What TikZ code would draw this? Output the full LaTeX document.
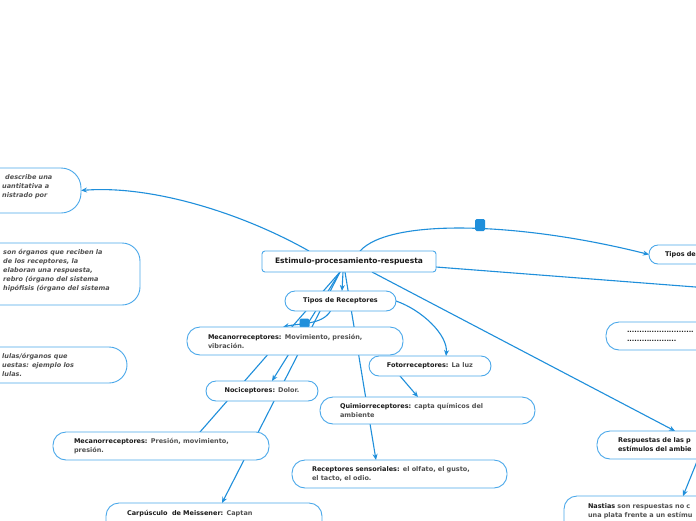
\documentclass[tikz,border=0pt]{standalone}
\usepackage{fontspec}
\setmainfont{DejaVu Sans}
\usetikzlibrary{arrows.meta,backgrounds}
\definecolor{lnblue}{HTML}{1F8FDB}
\definecolor{bxblue}{HTML}{4AA8EA}
\definecolor{txtdark}{HTML}{1A1A1A}
\definecolor{txtgray}{HTML}{505050}
\newcommand{\lbl}[1]{\textcolor{txtdark}{#1}}
\begin{document}
\begin{tikzpicture}[x=1pt,y=-1pt,
  conn/.style={draw=lnblue,line width=1.1pt},
  arr/.style={conn,-{Stealth[length=6pt,width=5pt]}},
  bx/.style={draw=bxblue,line width=0.9pt,fill=white,inner ysep=0pt,outer sep=0pt,
    font=\fontsize{6.5}{9}\selectfont\bfseries,text=txtgray},
  lefttxt/.style={font=\fontsize{6.5}{9}\selectfont\bfseries\itshape,text=txtgray,
    anchor=west,align=left,inner sep=0pt},
  handle/.style={fill=lnblue,rounded corners=1.5pt,inner sep=0pt}
]
\useasboundingbox (0,0) rectangle (696,520);
\clip (0,0) rectangle (696,520);

% main nodes
\node[bx,rounded corners=3pt,anchor=west,minimum width=174pt,minimum height=21pt,
  font=\fontsize{7.5}{9}\selectfont\bfseries,text=txtdark] (main) at (262,261.5)
  {Estimulo-procesamiento-respuesta};
\node[bx,rounded corners=10pt,anchor=west,minimum width=111pt,minimum height=20pt,text=txtdark]
  (tipos) at (285,301) {Tipos de Receptores};
\node[bx,rounded corners=13pt,anchor=west,text width=174pt,inner xsep=21pt,minimum height=28pt,align=left]
  (mec1) at (187,341) {\lbl{Mecanorreceptores:} Movimiento, presión,\\vibración.};
\node[bx,rounded corners=10pt,anchor=west,minimum width=122pt,minimum height=20pt]
  (foto) at (369,366) {\lbl{Fotorreceptores:} La luz};
\node[bx,rounded corners=10pt,anchor=west,minimum width=112pt,minimum height=20pt]
  (noci) at (206,391) {\lbl{Nociceptores:} Dolor.};
\node[bx,rounded corners=13pt,anchor=west,text width=175pt,inner xsep=20pt,minimum height=27pt,align=left]
  (quim) at (320,410.5) {\lbl{Quimiorreceptores:} capta químicos del\\ambiente};
\node[bx,rounded corners=13pt,anchor=west,text width=175pt,inner xsep=20pt,minimum height=28pt,align=left]
  (recs) at (292,474) {\lbl{Receptores sensoriales:} el olfato, el gusto,\\el tacto, el odio.};
\node[bx,rounded corners=13pt,anchor=west,text width=174pt,inner xsep=21pt,minimum height=28pt,align=left]
  (mec2) at (53,446) {\lbl{Mecanorreceptores:} Presión, movimiento,\\presión.};
\node[bx,rounded corners=13pt,anchor=north west,text width=174pt,inner xsep=21pt,inner ysep=4pt,
  text height=8pt,text depth=25pt,align=left]
  (carp) at (106,503) {\lbl{Carpúsculo\ \ de Meissener:} Captan};

% right side (cut) nodes
\node[bx,rounded corners=9pt,anchor=west,text width=100pt,inner xsep=16pt,minimum height=19pt,align=left]
  (tiposR) at (649,254.5) {\lbl{Tipos de}};
\node[bx,rounded corners=13pt,anchor=west,text width=150pt,inner xsep=21pt,minimum height=28pt,align=left]
  (dots) at (606,336) {\lbl{...........................}\\\lbl{....................}};
\node[bx,rounded corners=13pt,anchor=west,text width=150pt,inner xsep=21pt,minimum height=28pt,align=left]
  (resp) at (597,445) {\lbl{Respuestas de las p}\\\lbl{estímulos del ambie}};
\node[bx,rounded corners=13pt,anchor=north west,text width=200pt,inner xsep=24pt,inner ysep=4pt,
  text height=8pt,text depth=25pt,align=left]
  (nast) at (564,496) {\lbl{Nastias} son respuestas no c\\una plata frente a un estímu};
\coordinate (offR) at (702,287.5);

% left side (cut) nodes
\node[bx,rounded corners=20pt,anchor=east,minimum width=200pt,minimum height=45pt] (l1) at (81,190.5) {};
\node[lefttxt] (l1t) at (2,187) {\hspace*{3pt}describe una\\uantitativa a\\nistrado por};
\node[bx,rounded corners=18pt,anchor=east,minimum width=250pt,minimum height=62pt] (l2) at (140,274) {};
\node[lefttxt] (l2t) at (3,271) {son órganos que reciben la\\de los receptores, la\\elaboran una respuesta,\\rebro (órgano del sistema\\hipófisis (órgano del sistema};
\node[bx,rounded corners=18pt,anchor=east,minimum width=250pt,minimum height=36pt] (l3) at (127,365) {};
\node[lefttxt] (l3t) at (2,365) {lulas/órganos que\\uestas: ejemplo los\\lulas.};

\begin{scope}[on background layer]
  \fill[white] (0,0) rectangle (696,520);
  \draw[arr] ([xshift=-40pt]main.north) .. controls (240,212) and (150,185) .. (l1.east);
  \draw[arr] ([xshift=11pt]main.north) .. controls (390,218) and (520,222) .. (tiposR.west);
  \draw[conn] ([yshift=-5.5pt]main.east) -- (offR);
  \draw[arr] ([xshift=23pt]main.south) -- ([xshift=-18pt]resp.north);
  \draw[arr] ([xshift=5pt]resp.south) -- ([xshift=-5pt]nast.north);
  \draw[arr] ([xshift=-6pt]main.south) -- ([xshift=1.5pt]tipos.north);
  \draw[arr] ([xshift=-9pt]main.south) -- ([xshift=10pt]noci.north);
  \draw[conn] ([xshift=-9pt]main.south) -- ([xshift=39pt]mec2.north);
  \draw[arr] ([xshift=-9pt]main.south) -- ([xshift=8pt]carp.north);
  \draw[arr] ([xshift=-4pt]main.south) -- ([xshift=-23.5pt]recs.north);
  \draw[arr] ([xshift=-10pt]tipos.south) .. controls (322,325) and (300,323) .. ([xshift=-12pt]mec1.north);
  \draw[arr] (tipos.east) .. controls (422,310) and (448,335) .. ([xshift=16pt]foto.north);
  \draw[arr] ([xshift=-30pt]foto.south) -- ([xshift=-9.5pt]quim.north);
  \node[handle,minimum width=10pt,minimum height=9pt] (h1) at (304.5,323) {};
\end{scope}
\node[handle,minimum width=10pt,minimum height=12pt] (h2) at (480,225) {};
\end{tikzpicture}
\end{document}
